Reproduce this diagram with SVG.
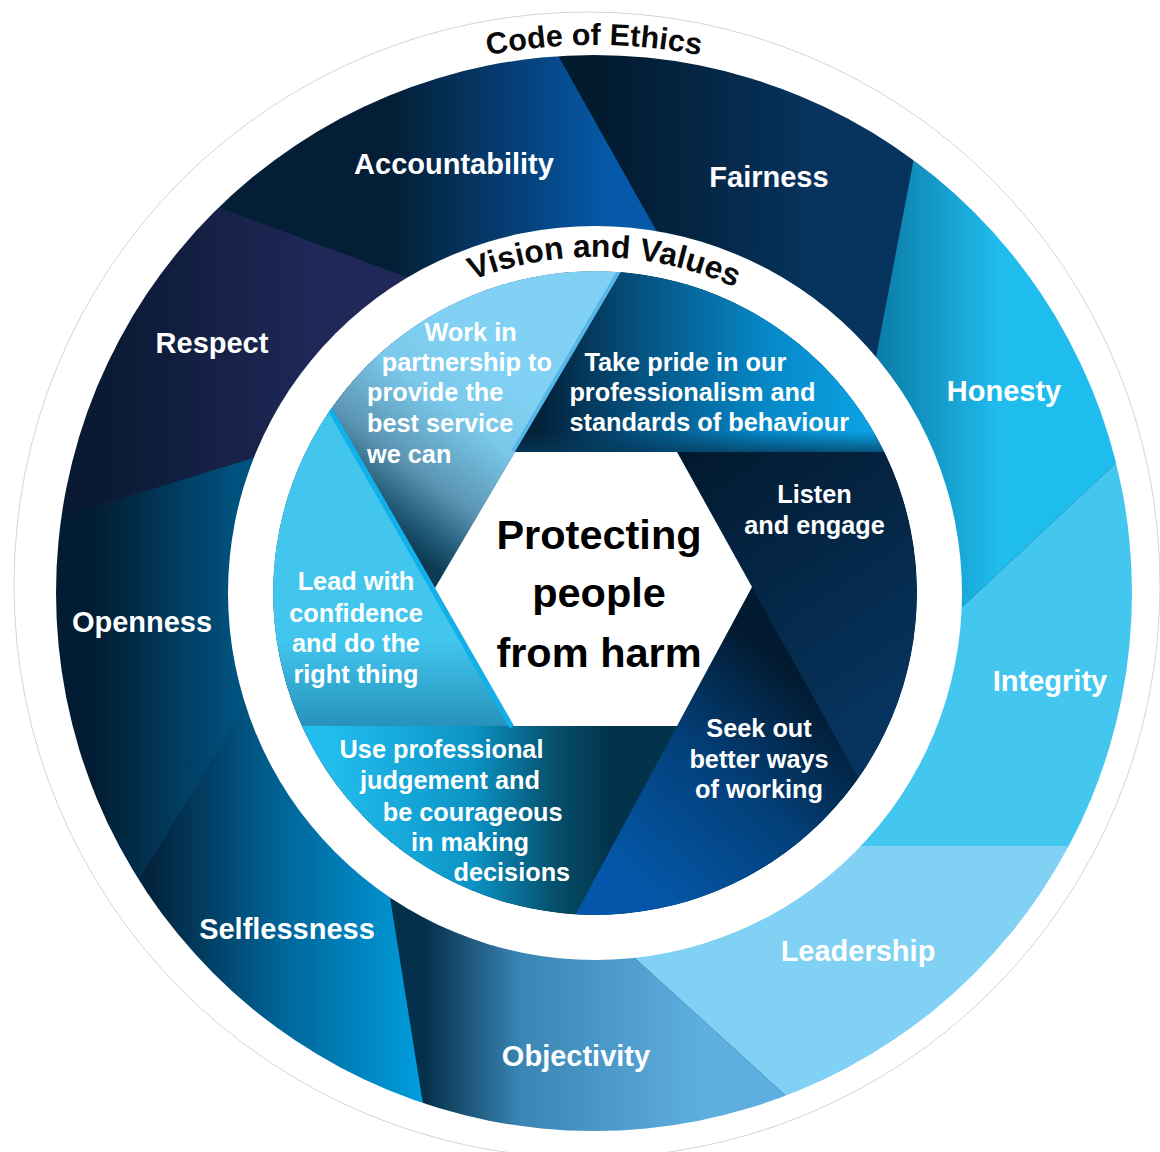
<svg xmlns="http://www.w3.org/2000/svg" width="1160" height="1152" viewBox="0 0 1160 1152">
<defs>
<style>
.ol{font-family:'Liberation Sans',Arial,Helvetica,sans-serif;font-weight:bold;font-size:29px;fill:#fff;text-anchor:middle}
.il{font-family:'Liberation Sans',Arial,Helvetica,sans-serif;font-weight:bold;font-size:25.3px;fill:#fff}
.ilc{text-anchor:middle}
.ctr{font-family:'Liberation Sans',Arial,Helvetica,sans-serif;font-weight:bold;font-size:41.5px;fill:#000;text-anchor:middle}
.arc{font-family:'Liberation Sans',Arial,Helvetica,sans-serif;font-weight:bold;font-size:30.5px;fill:#0a0a0a;text-anchor:middle}
.arcv{font-size:31.8px}
</style>
<linearGradient id="gAcc" gradientUnits="userSpaceOnUse" x1="390" y1="0" x2="610" y2="0"><stop offset="0" stop-color="#041e36"/><stop offset="1" stop-color="#0659a8"/></linearGradient>
<linearGradient id="gFair" gradientUnits="userSpaceOnUse" x1="600" y1="0" x2="820" y2="0"><stop offset="0" stop-color="#021a2e"/><stop offset="1" stop-color="#07345f"/></linearGradient>
<linearGradient id="gHon" gradientUnits="userSpaceOnUse" x1="875" y1="0" x2="1000" y2="0"><stop offset="0" stop-color="#0b7aa6"/><stop offset="1" stop-color="#1fbdee"/></linearGradient>
<linearGradient id="gObj" gradientUnits="userSpaceOnUse" x1="425" y1="0" x2="700" y2="0"><stop offset="0" stop-color="#05304b"/><stop offset="0.35" stop-color="#3a86b4"/><stop offset="1" stop-color="#5eaee0"/></linearGradient>
<linearGradient id="gSelf" gradientUnits="userSpaceOnUse" x1="150" y1="0" x2="420" y2="0"><stop offset="0" stop-color="#03223b"/><stop offset="0.5" stop-color="#00669a"/><stop offset="1" stop-color="#009cdc"/></linearGradient>
<linearGradient id="gOpen" gradientUnits="userSpaceOnUse" x1="95" y1="0" x2="235" y2="0"><stop offset="0" stop-color="#021d33"/><stop offset="1" stop-color="#00527f"/></linearGradient>
<linearGradient id="gResp" gradientUnits="userSpaceOnUse" x1="110" y1="0" x2="320" y2="0"><stop offset="0" stop-color="#0a1a34"/><stop offset="1" stop-color="#202858"/></linearGradient>
<linearGradient id="gWork" gradientUnits="userSpaceOnUse" x1="540" y1="400" x2="420" y2="560"><stop offset="0" stop-color="#80d1f3"/><stop offset="0.3" stop-color="#7ac8ea"/><stop offset="0.65" stop-color="#5b95b3"/><stop offset="0.85" stop-color="#245e7a"/><stop offset="1" stop-color="#0b3a52"/></linearGradient>
<linearGradient id="gTake" gradientUnits="userSpaceOnUse" x1="540" y1="0" x2="860" y2="0"><stop offset="0" stop-color="#03213a"/><stop offset="0.3" stop-color="#05507e"/><stop offset="0.7" stop-color="#0687c6"/><stop offset="1" stop-color="#0aa0e2"/></linearGradient>
<linearGradient id="gTakeBand" gradientUnits="userSpaceOnUse" x1="0" y1="432" x2="0" y2="452"><stop offset="0" stop-color="#053a5a" stop-opacity="0"/><stop offset="1" stop-color="#053a5a" stop-opacity="0.75"/></linearGradient>
<linearGradient id="gListen" gradientUnits="userSpaceOnUse" x1="700" y1="450" x2="880" y2="720"><stop offset="0" stop-color="#021a30"/><stop offset="1" stop-color="#07345f"/></linearGradient>
<linearGradient id="gSeek" gradientUnits="userSpaceOnUse" x1="800" y1="680" x2="630" y2="880"><stop offset="0" stop-color="#021a30"/><stop offset="0.45" stop-color="#033f78"/><stop offset="1" stop-color="#0457a8"/></linearGradient>
<linearGradient id="gUse" gradientUnits="userSpaceOnUse" x1="330" y1="0" x2="610" y2="0"><stop offset="0" stop-color="#22bdee"/><stop offset="0.5" stop-color="#0b95c6"/><stop offset="0.8" stop-color="#05506c"/><stop offset="1" stop-color="#03334b"/></linearGradient>
<linearGradient id="gLead" gradientUnits="userSpaceOnUse" x1="0" y1="640" x2="0" y2="726"><stop offset="0" stop-color="#42c6ee"/><stop offset="1" stop-color="#2792bb"/></linearGradient>
<clipPath id="outerClip"><circle cx="594" cy="593" r="538"/></clipPath>
<clipPath id="innerClip"><circle cx="595" cy="593" r="322"/></clipPath>
<path id="arcCode" d="M 46,593 A 548 548 0 0 1 1142,593"/>
<path id="arcVision" d="M 259,593 A 336 336 0 0 1 931,593"/>
</defs>
<rect width="1160" height="1152" fill="#fff"/>
<circle id="outer-disc" cx="587" cy="585" r="573" fill="#fff" stroke="#d4d4d4" stroke-width="1"/>
<g id="code-of-ethics">
<circle cx="594" cy="593" r="537" fill="#0a3050"/>
<g id="accountability"><polygon clip-path="url(#outerClip)" fill="url(#gAcc)" points="594,593 430,286 131.5,175.5 511,-28.5 669.4,253.7"/><text class="ol" x="454" y="174">Accountability</text></g>
<g id="fairness"><polygon clip-path="url(#outerClip)" fill="url(#gFair)" points="594,593 669.4,253.7 511,-28.5 931.5,66 870.5,386"/><text class="ol" x="769" y="187">Fairness</text></g>
<g id="honesty"><polygon clip-path="url(#outerClip)" fill="url(#gHon)" points="594,593 870.5,386 931.5,66 1188.75,394.75 941,627"/><text class="ol" x="1004" y="401">Honesty</text></g>
<g id="integrity"><polygon clip-path="url(#outerClip)" fill="#44c7ee" points="594,593 941,627 1188.75,394.75 1168,846 830,846"/><text class="ol" x="1050" y="691">Integrity</text></g>
<g id="leadership"><polygon clip-path="url(#outerClip)" fill="#80d1f3" points="594,593 830,846 1168,846 853,1157 615,940"/><text class="ol" x="858" y="961">Leadership</text></g>
<g id="objectivity"><polygon clip-path="url(#outerClip)" fill="url(#gObj)" points="594,593 615,940 853,1157 438,1198.6 385,866"/><text class="ol" x="576" y="1066">Objectivity</text></g>
<g id="selflessness"><polygon clip-path="url(#outerClip)" fill="url(#gSelf)" points="594,593 385,866 438,1198.6 88,961.5 259.6,683"/><text class="ol" x="287" y="939">Selflessness</text></g>
<g id="openness"><polygon clip-path="url(#outerClip)" fill="url(#gOpen)" points="594,593 259.6,683 88,961.5 -24,543.5 281.6,449"/><text class="ol" x="142" y="632">Openness</text></g>
<g id="respect"><polygon clip-path="url(#outerClip)" fill="url(#gResp)" points="594,593 281.6,449 -24,543.5 131.5,175.5 430,286"/><text class="ol" x="212" y="353">Respect</text></g>
<text class="arc"><textPath href="#arcCode" startOffset="50%">Code of Ethics</textPath></text>
</g>
<g id="vision-and-values">
<circle cx="595" cy="593" r="367" fill="#fff"/>
<text class="arc arcv"><textPath href="#arcVision" startOffset="537">Vision and Values</textPath></text>
<g clip-path="url(#innerClip)">
<circle cx="595" cy="593" r="322" fill="#0a3050"/>
<g id="work-in-partnership"><path fill="url(#gWork)" d="M 435,588 L 331.7,407.5 A 322 322 0 0 1 620.9,272 L 515,452 Z"/><line x1="513.3" y1="451" x2="619.2" y2="271" stroke="#56b6e6" stroke-width="4"/>
<text class="il"><tspan x="424.4" y="340.6">Work in</tspan><tspan x="381.8" y="370.6">partnership to</tspan><tspan x="367" y="401">provide the</tspan><tspan x="367" y="431.7">best service</tspan><tspan x="367" y="462.7">we can</tspan></text></g>
<g id="take-pride"><path fill="url(#gTake)" d="M 515,452 L 620.9,272 A 322 322 0 0 1 884.5,452 Z"/><path fill="url(#gTakeBand)" d="M 515,452 L 620.9,272 A 322 322 0 0 1 884.5,452 Z"/>
<text class="il"><tspan x="584.4" y="370.6">Take pride in our</tspan><tspan x="569.4" y="400.6">professionalism and</tspan><tspan x="569.4" y="431">standards of behaviour</tspan></text></g>
<g id="listen-and-engage"><path fill="url(#gListen)" d="M 677,452 L 884.5,452 A 322 322 0 0 1 858.4,778.3 Z"/>
<text class="il ilc"><tspan x="814.5" y="503">Listen</tspan><tspan x="814.5" y="533.5">and engage</tspan></text></g>
<g id="seek-out"><path fill="url(#gSeek)" d="M 752,587 L 858.4,778.3 A 322 322 0 0 1 575.3,914.4 Z"/>
<text class="il ilc"><tspan x="759" y="737">Seek out</tspan><tspan x="759" y="767.5">better ways</tspan><tspan x="759" y="798">of working</tspan></text></g>
<g id="use-professional-judgement"><path fill="url(#gUse)" d="M 677,726 L 575.3,914.4 A 322 322 0 0 1 301.8,726 Z"/>
<text class="il"><tspan x="339.6" y="758.4">Use professional</tspan><tspan x="360" y="789">judgement and</tspan><tspan x="382.7" y="820.5">be courageous</tspan><tspan x="411" y="851">in making</tspan><tspan x="453.5" y="881">decisions</tspan></text></g>
<g id="lead-with-confidence"><path fill="url(#gLead)" d="M 514,726 L 301.8,726 A 322 322 0 0 1 331.7,407.5 Z"/><line x1="329.5" y1="408.7" x2="511.8" y2="727.2" stroke="#10b0ea" stroke-width="5"/>
<text class="il ilc"><tspan x="356" y="590">Lead with</tspan><tspan x="356" y="621.7">confidence</tspan><tspan x="356" y="652">and do the</tspan><tspan x="356" y="682.5">right thing</tspan></text></g>
</g>
</g>
<g id="protecting-people">
<polygon fill="#fff" points="515,452 677,452 752,587 677,726 514,726 435,588"/>
<text class="ctr"><tspan x="599" y="549">Protecting</tspan><tspan x="599" y="607">people</tspan><tspan x="599" y="667">from harm</tspan></text>
</g>
</svg>
